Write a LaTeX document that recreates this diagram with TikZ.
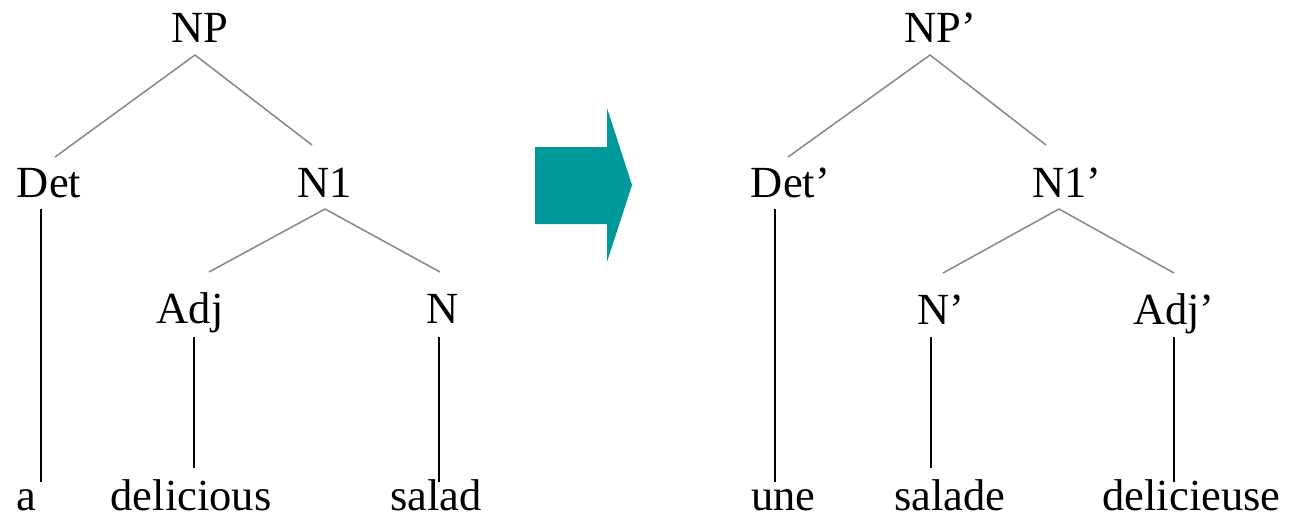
\documentclass[tikz,border=0pt]{standalone}
\usepackage{fontspec}
\newfontfamily\treefont{LiberationSerif}[Extension=.ttf,UprightFont=*-Regular]
\definecolor{arrowteal}{RGB}{0,153,153}
\definecolor{branchgray}{RGB}{135,135,135}
\begin{document}
\begin{tikzpicture}[x=1pt,y=-1pt,
  lbl/.style={anchor=base,inner sep=0pt,font=\treefont\fontsize{44.5}{53}\selectfont},
  branch/.style={draw=branchgray,line width=1.5pt},
  stem/.style={draw=black,line width=2pt},
  bigarrow/.style={fill=arrowteal,draw=none}]
\useasboundingbox (0,0) rectangle (1289,522);

% ---- English tree ----
\node[lbl] (np)   at (200,42)  {NP};
\node[lbl] (det)  at (49,197)  {Det};
\node[lbl] (n1)   at (324.5,197) {N1};
\node[lbl] (adj)  at (190,323) {Adj};
\node[lbl] (n)    at (443,323) {N};
\node[lbl] (wa)   at (26,510)  {a};
\node[lbl] (wdel) at (191,510) {delicious};
\node[lbl] (wsal) at (436,510) {salad};

\coordinate (np-b)   at (195,55);
\coordinate (det-t)  at (55,157);
\coordinate (n1-t)   at (312,145);
\coordinate (n1-b)   at (325,209);
\coordinate (adj-t)  at (209,272);
\coordinate (n-t)    at (440,272);
\coordinate (det-b)  at (41,209);
\coordinate (wa-t)   at (41,482);
\coordinate (adj-b)  at (194,337);
\coordinate (wdel-t) at (194,468);
\coordinate (n-b)    at (439,337);
\coordinate (wsal-t) at (439,482);

\draw[branch] (det-t) -- (np-b) -- (n1-t);
\draw[branch] (adj-t) -- (n1-b) -- (n-t);
\draw[stem] (det-b) -- (wa-t);
\draw[stem] (adj-b) -- (wdel-t);
\draw[stem] (n-b) -- (wsal-t);

% ---- transformation arrow ----
\path[bigarrow] (535,147) -- (607,147) -- (607,108) -- (632,185)
  -- (607,262) -- (607,224) -- (535,224) -- cycle;

% ---- French tree ----
\node[lbl] (npp)   at (940,42)    {NP’};
\node[lbl] (detp)  at (790.5,197) {Det’};
\node[lbl] (n1p)   at (1067,197)  {N1’};
\node[lbl] (np2)   at (941,324)   {N’};
\node[lbl] (adjp)  at (1174,324)  {Adj’};
\node[lbl] (wune)  at (783.5,510) {une};
\node[lbl] (wsald) at (950,510)   {salade};
\node[lbl] (wdeli) at (1191.5,510) {delicieuse};

\coordinate (npp-b)   at (930,55);
\coordinate (detp-t)  at (788,157);
\coordinate (n1p-t)   at (1046,145);
\coordinate (n1p-b)   at (1059,209);
\coordinate (np2-t)   at (943,273);
\coordinate (adjp-t)  at (1174,273);
\coordinate (detp-b)  at (775,209);
\coordinate (wune-t)  at (775,482);
\coordinate (np2-b)   at (931,337);
\coordinate (wsald-t) at (931,468);
\coordinate (adjp-b)  at (1174,337);
\coordinate (wdeli-t) at (1174,482);

\draw[branch] (detp-t) -- (npp-b) -- (n1p-t);
\draw[branch] (np2-t) -- (n1p-b) -- (adjp-t);
\draw[stem] (detp-b) -- (wune-t);
\draw[stem] (np2-b) -- (wsald-t);
\draw[stem] (adjp-b) -- (wdeli-t);
\end{tikzpicture}
\end{document}
